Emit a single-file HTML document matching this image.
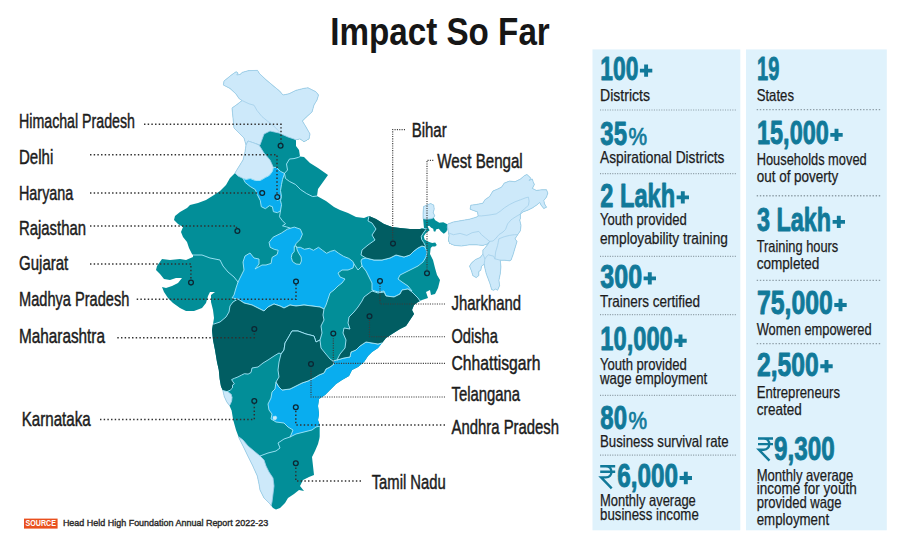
<!DOCTYPE html>
<html><head><meta charset="utf-8"><title>Impact So Far</title><style>html,body{margin:0;padding:0;background:#fff}svg{display:block}text{font-family:"Liberation Sans",sans-serif}</style></head><body>
<svg width="900" height="545" viewBox="0 0 900 545">
<rect width="900" height="545" fill="#fff"/>
<defs><clipPath id="india"><polygon points="236.1,71.7 238.1,73 236.8,75 240.1,74.4 242.1,72.4 248.8,70.6 257.5,70.4 259.6,73.7 266,79.7 274,86.4 279.6,91 283,95 289,93.8 295.7,90.4 303.7,88.4 308,87.8 316,91.8 318.5,95 317,100 314,105 312,112 306.4,117 302.4,121 306,127 310,134 309,139 304,142 300,139 296,140 296,146 299,150 300,156.5 304,157 310,163 318,168 328,175 323,182 318,189 317,196 326,201 334,207 340,210 348,213 356,217 364,218 369,216 376,219 384,224 392,227 400,228 410,229 420,229 424,228 423.1,218.7 423.1,213.1 423.6,206.6 426.7,205.1 430.7,203.6 433.7,205.1 434.2,209.1 433.2,212.6 434.7,215.7 433.7,217.7 435.2,220.2 439.3,222.7 443.3,222.2 447.3,224.2 453.4,222 461.4,220.6 469.5,219.2 476.2,217.2 478.2,215.9 477.5,211.9 473.5,210.5 470.1,209.2 470.8,205.2 476.2,204.5 482.9,203.2 484.9,199.8 489.6,196.5 492.9,191.1 497.6,189.1 501.6,187.1 504.3,183.1 509.6,181.1 515,181.7 520.4,179.1 524.4,175.7 527,174.4 529,176.4 531.1,178.4 529.1,180.4 532.4,179.1 533.1,181.7 534.4,184.4 532.4,188.4 536.4,190.4 541.8,189.8 546.5,189.8 547.8,193.1 546.5,197.1 543.8,200.5 544.5,203.8 546.5,207.2 543.8,208.5 541.1,205.2 539.8,202.5 536.4,205.2 532.4,207.9 528.4,209.9 523,211.9 520.4,214 520.4,218.6 519.7,220 521,225.4 520.4,230.7 517.7,234.7 515,238.8 517,241.4 515,248.1 513,254.8 511,260.2 509.6,260.8 504.3,260.2 500.3,260.2 500.9,266.9 500.3,273.6 498.9,280.3 499.6,285.6 497.6,290.3 495.6,289 493.6,290.3 491.6,289.6 490.2,284.3 488.2,278.9 486.2,273.6 484.9,268.2 484.2,264.2 481.5,266.2 480.8,270.2 478.8,271.6 478.8,275.6 476.2,277.6 472.8,275.6 471.5,270.9 469.5,266.2 471.5,262.9 475.5,259.5 480.2,257.5 482.9,254 482.9,250 484.9,248 487.5,244.8 489.6,241.4 487.5,244 482.9,245.4 476.2,244.8 469.5,244.8 461.4,246 454.7,245.4 449.4,243.4 448.3,240.4 448.9,235.3 447.8,230.3 447.8,228.3 446.3,231.8 443.8,233.8 440.8,231.3 438.8,228.8 436.3,229.3 435.2,231.8 433.7,231.3 433.2,228.8 431.2,227.8 429.2,225.7 427.7,226.2 428.7,228.8 429.7,230.3 427.7,231.8 425.6,233.5 423.8,236.3 424.6,239.4 426.5,240.7 429.2,241.9 432.2,242.9 435.2,242.4 436.8,244.9 435.2,246.4 432.2,246.4 430.7,247.9 430,254 433,260 435,268 437,275 440,280 438,288 435,294 431,295 430,290 426,292 428,298 422,300 418,302 414,305 412,310 414,314 410,320 406,326 400,329 392,334 386,338 382,343 378,348 372,352 368,356 364,362 358,367 352,370 349,376 342,380 336,384 330,390 325,395 319,399 318,406 319,414 318,420 320,426 320,436 318,444 315,451 312,457 313,466 314,475 309,477 303,480 300,486 304,491 299,490 294,494 288,498 285,503 280,508 276,509.6 273,508 270,504 264,498 260,490 259,484 257.3,476 252.8,466 247.8,456 243,446 239,438 236,430 233.2,420 231.6,410.4 229.3,405.3 226.6,401.7 224.3,396.6 222.9,390.6 221,386.5 219.7,379.2 218.8,370 217,362 215,350 213,340 212,330 213,324 214,318 213,310 211,302 211,295 215,292 210,292 208,296 206,303 202,308 194,311 186,311 180,308 173,303 168,298 164,292 162,287 166,288 172,286 178,283 182,278 176,278 170,280 164,279 160,274 156,270 157,266 162,259 170,260 180,259 186,260 193,257 193,255 192,254 189,248 187,242 183,237 181,232 183,227 178,224 174,220 175,216 180,212 187,208 190,205 198,203 206,200 214,195 220,191 226,185 230,178 235,173 238,168 243,160 245,152 246,145 244,138 240,134 234,128 233,118 232,108 237,104.5 242,100.5 239,98.5 236,94 230,88.4 223.4,85 224,81 231.4,75"/></clipPath></defs>
<g id="map">
<polygon points="236.1,71.7 238.1,73 236.8,75 240.1,74.4 242.1,72.4 248.8,70.6 257.5,70.4 259.6,73.7 266,79.7 274,86.4 279.6,91 283,95 289,93.8 295.7,90.4 303.7,88.4 308,87.8 316,91.8 318.5,95 317,100 314,105 312,112 306.4,117 302.4,121 306,127 310,134 309,139 304,142 300,139 296,140 296,146 299,150 300,156.5 304,157 310,163 318,168 328,175 323,182 318,189 317,196 326,201 334,207 340,210 348,213 356,217 364,218 369,216 376,219 384,224 392,227 400,228 410,229 420,229 424,228 423.1,218.7 423.1,213.1 423.6,206.6 426.7,205.1 430.7,203.6 433.7,205.1 434.2,209.1 433.2,212.6 434.7,215.7 433.7,217.7 435.2,220.2 439.3,222.7 443.3,222.2 447.3,224.2 453.4,222 461.4,220.6 469.5,219.2 476.2,217.2 478.2,215.9 477.5,211.9 473.5,210.5 470.1,209.2 470.8,205.2 476.2,204.5 482.9,203.2 484.9,199.8 489.6,196.5 492.9,191.1 497.6,189.1 501.6,187.1 504.3,183.1 509.6,181.1 515,181.7 520.4,179.1 524.4,175.7 527,174.4 529,176.4 531.1,178.4 529.1,180.4 532.4,179.1 533.1,181.7 534.4,184.4 532.4,188.4 536.4,190.4 541.8,189.8 546.5,189.8 547.8,193.1 546.5,197.1 543.8,200.5 544.5,203.8 546.5,207.2 543.8,208.5 541.1,205.2 539.8,202.5 536.4,205.2 532.4,207.9 528.4,209.9 523,211.9 520.4,214 520.4,218.6 519.7,220 521,225.4 520.4,230.7 517.7,234.7 515,238.8 517,241.4 515,248.1 513,254.8 511,260.2 509.6,260.8 504.3,260.2 500.3,260.2 500.9,266.9 500.3,273.6 498.9,280.3 499.6,285.6 497.6,290.3 495.6,289 493.6,290.3 491.6,289.6 490.2,284.3 488.2,278.9 486.2,273.6 484.9,268.2 484.2,264.2 481.5,266.2 480.8,270.2 478.8,271.6 478.8,275.6 476.2,277.6 472.8,275.6 471.5,270.9 469.5,266.2 471.5,262.9 475.5,259.5 480.2,257.5 482.9,254 482.9,250 484.9,248 487.5,244.8 489.6,241.4 487.5,244 482.9,245.4 476.2,244.8 469.5,244.8 461.4,246 454.7,245.4 449.4,243.4 448.3,240.4 448.9,235.3 447.8,230.3 447.8,228.3 446.3,231.8 443.8,233.8 440.8,231.3 438.8,228.8 436.3,229.3 435.2,231.8 433.7,231.3 433.2,228.8 431.2,227.8 429.2,225.7 427.7,226.2 428.7,228.8 429.7,230.3 427.7,231.8 425.6,233.5 423.8,236.3 424.6,239.4 426.5,240.7 429.2,241.9 432.2,242.9 435.2,242.4 436.8,244.9 435.2,246.4 432.2,246.4 430.7,247.9 430,254 433,260 435,268 437,275 440,280 438,288 435,294 431,295 430,290 426,292 428,298 422,300 418,302 414,305 412,310 414,314 410,320 406,326 400,329 392,334 386,338 382,343 378,348 372,352 368,356 364,362 358,367 352,370 349,376 342,380 336,384 330,390 325,395 319,399 318,406 319,414 318,420 320,426 320,436 318,444 315,451 312,457 313,466 314,475 309,477 303,480 300,486 304,491 299,490 294,494 288,498 285,503 280,508 276,509.6 273,508 270,504 264,498 260,490 259,484 257.3,476 252.8,466 247.8,456 243,446 239,438 236,430 233.2,420 231.6,410.4 229.3,405.3 226.6,401.7 224.3,396.6 222.9,390.6 221,386.5 219.7,379.2 218.8,370 217,362 215,350 213,340 212,330 213,324 214,318 213,310 211,302 211,295 215,292 210,292 208,296 206,303 202,308 194,311 186,311 180,308 173,303 168,298 164,292 162,287 166,288 172,286 178,283 182,278 176,278 170,280 164,279 160,274 156,270 157,266 162,259 170,260 180,259 186,260 193,257 193,255 192,254 189,248 187,242 183,237 181,232 183,227 178,224 174,220 175,216 180,212 187,208 190,205 198,203 206,200 214,195 220,191 226,185 230,178 235,173 238,168 243,160 245,152 246,145 244,138 240,134 234,128 233,118 232,108 237,104.5 242,100.5 239,98.5 236,94 230,88.4 223.4,85 224,81 231.4,75" fill="#028e98"/>
<g clip-path="url(#india)">
<polygon points="200,60 330,60 330,140 309,139 304,142 300,139 296,140 294,139 288,137 279,133 270,131 264,134 260,145 254,143 248,141 246,145 200,145" fill="#cde9fa" stroke="#a3cfea" stroke-width="0.8" stroke-linejoin="round" />
<polygon points="225,145 246,145 248,141 254,143 259,145 264,153 270,160 273.4,167.4 272.4,171.4 269.4,175.4 265.4,177.5 260.3,180.5 255.3,180.5 250.2,178.5 246.2,179.5 243.2,178.5 238,176 235,173 225,173" fill="#cde9fa" stroke="#a3cfea" stroke-width="0.8" stroke-linejoin="round" />
<polygon points="420,200 438,200 438,217 433.7,217.7 431.2,218.7 426.7,219.2 423.1,218.7 420,218.7" fill="#cde9fa" stroke="#a3cfea" stroke-width="0.8" stroke-linejoin="round" />
<polygon points="447.6,224 470,160 570,160 570,300 460,300 453,246 449.4,243.4 448.3,240.4 448.9,235.3 447.8,230.3 447.3,227.3" fill="#cde9fa" stroke="#a3cfea" stroke-width="0.8" stroke-linejoin="round" />
<polygon points="239,437 243,440 248,446 254,451 260,456 264,460 266,466 269,472 273,478 274,486 273,494 272,502 271,506 260,515 225,480 225,437" fill="#cde9fa" stroke="#a3cfea" stroke-width="0.8" stroke-linejoin="round" />
<polygon points="215,390.6 222.9,390.6 226.6,390.9 228.9,392.5 231.1,394.3 232.1,397.5 231.6,401.2 230.2,404.4 229.3,405.6 215,405.6" fill="#cde9fa" stroke="#a3cfea" stroke-width="0.8" stroke-linejoin="round" />
<polyline points="242,100.5 249,103.8 254,105.2 257,110.5 262,116.6 267.6,121.2 273,125.3 277,129.3 279.6,132" fill="none" stroke="#a3cfea" stroke-width="0.8" stroke-linejoin="round" stroke-linecap="round"/>
<polyline points="478.2,215.9 481.5,215.9 488.2,215.2 496.2,213.9 500.3,211.2 504.3,207.9 509.6,204.5 515,201.8 520.4,199.8 525.7,197.8 528.4,197.1 529.1,201.2 528.4,205.2 525.7,207.9 521.7,211.2 520.4,214" fill="none" stroke="#a3cfea" stroke-width="0.8" stroke-linejoin="round" stroke-linecap="round"/>
<polyline points="520.4,214 515,217.2 511,219.9 507.6,223.9 505.6,229.3 503,232 498.9,234.7 496.2,238" fill="none" stroke="#a3cfea" stroke-width="0.8" stroke-linejoin="round" stroke-linecap="round"/>
<polyline points="448,232.7 453.4,234.7 460,233.4 466.8,235.4 472.1,232.7 478.8,231.4 481.5,234.7 485.5,238 489.6,241.4" fill="none" stroke="#a3cfea" stroke-width="0.8" stroke-linejoin="round" stroke-linecap="round"/>
<polyline points="482.9,254 484.9,258.8 484.2,264.2" fill="none" stroke="#a3cfea" stroke-width="0.8" stroke-linejoin="round" stroke-linecap="round"/>
<polyline points="484.9,258.8 487.5,255.5 488.2,254.8 493.6,256.2 494.9,258.8 500.3,260.2" fill="none" stroke="#a3cfea" stroke-width="0.8" stroke-linejoin="round" stroke-linecap="round"/>
<polyline points="494.9,258.8 495.6,252.1 497.6,245.4 498.9,238.8 504.3,236.7 509.6,235.4 514.3,234.7 517.7,234.7" fill="none" stroke="#a3cfea" stroke-width="0.8" stroke-linejoin="round" stroke-linecap="round"/>
<polyline points="489.6,241.4 493,241 496.2,238" fill="none" stroke="#a3cfea" stroke-width="0.8" stroke-linejoin="round" stroke-linecap="round"/>
<polygon points="243.2,178.5 245.2,182.5 250.2,186.5 255.3,189.6 257.3,194.6 260.3,200.6 261.3,206.7 265.4,208.7 269.4,205.7 272.4,206.7 273.4,211.7 277.5,212.7 280.5,210.7 281.5,204.7 280.5,200.6 281.5,196.6 280.5,190.6 281.5,184.5 282.5,179.5 284.5,173.4 280.5,171.4 276.5,167.4 273.4,167.4 272.4,171.4 269.4,175.4 265.4,177.5 260.3,180.5 255.3,180.5 250.2,178.5 246.2,179.5" fill="#09adef" stroke="#a6e8fb" stroke-width="0.9" stroke-linejoin="round" />
<polygon points="238,282 241,276 244,270 243,262 245,256 250,253 254,258 259,259 259,264 255,269 262,265 266,265 271.1,263.4 272.1,257.4 277.2,254.4 278.2,250.3 274.2,249.3 270.1,247.3 269.1,242.3 273.1,237.2 281.2,233.2 287.3,229.2 294.3,227.1 300.4,229.2 302.4,234.2 300.4,239.2 296.3,243.3 294.3,247.3 300.4,247.3 304.4,249.3 309.4,248.3 313.5,250.3 318.5,247.3 322.5,250.3 326.6,253.3 330.6,251.3 334.6,250.3 338.7,253.3 343.7,256.4 348.8,258.4 352.8,261.4 354,264 353,268 348,270 342,270 338,273 340,277 345,279 342,283 338,286 334,290 330,293 328,299 326,305 324,309 320,307 312,306 304,305 296,306 290,305 284,308 280,306 274,304 268,307 264,311 260,309 252,305 244,303 238,299 232,298 234,295 236,288" fill="#09adef" stroke="#a6e8fb" stroke-width="0.9" stroke-linejoin="round" />
<polygon points="362,266 361,261 362,259 366,258 374,260 382,260 390,258 396,255 404,257 410,255 414,251 418,248 422,246 425,247 427,252 426,257 423,262 418,266 412,269 406,272 400,275 398,279 402,282 408,286 412,291 408,289 402,290 400,294 394,297 386,296 384,291 378,292 372,290 372,283 369,277 366,271" fill="#09adef" stroke="#a6e8fb" stroke-width="0.9" stroke-linejoin="round" />
<polygon points="337,360 344,358 350,357 351,352 356,350 360,346 366,342 372,343 378,344 382,343 400,343 400,450 320,450 320,426 316,427 312,430 304,432 296,434 290,437 291,435 293,430 288,427 284,423 276,422 271,419 272,414 269,410 268,404 271,398 272,392 275,389 276,382 279,387 282,390 290,389 296,386 302,383 308,381 314,378 319,375 324,373 326,369 330,367 334,364 333,361" fill="#09adef" stroke="#a6e8fb" stroke-width="0.9" stroke-linejoin="round" />
<polygon points="275.2,195.3 278,194 280.5,196 280,199.5 277,200.5 275,198.5" fill="#09adef" stroke="#a6e8fb" stroke-width="0.6" stroke-linejoin="round" />
<polygon points="294.3,246.3 296.3,246 297.2,250 298.6,253 301.2,257 301.4,261 300,264.4 296,264 292.5,261.5 291.3,257.5 292,254 294.2,251.5" fill="#028e98" stroke="#a6e8fb" stroke-width="0.9" stroke-linejoin="round" />
<polygon points="369,210 422,210 422,228 426.5,229 425.7,229.8 423.1,233.3 421.3,236.3 421.6,239.4 423.6,242.4 425.2,245.4 425,247 422,246 418,248 414,251 410,255 404,257 396,255 390,258 382,260 374,260 366,258 361,255 362,250 368,245 375,240 372,235 376,229 372,223 368,221 369,216" fill="#015d62" stroke="#a6e8fb" stroke-width="0.9" stroke-linejoin="round" />
<polygon points="200,324 214,324 220,322 226,317 229,312 230,306 233,302 238,299 244,303 252,305 260,309 264,311 268,307 274,304 280,306 284,308 290,305 296,306 304,305 312,306 320,307 324,309 323,315 324,320 321,326 322,333 320,340 316,342 314,336 306,334 298,331 292,331 288,338 285,343 284,350 281,354 279,353 274,356 268,360 263,363 258,367 252,368 251,372.5 248.1,374.1 244.4,373.7 241.7,375 238,376.9 234.4,378.3 231.6,379.6 233,381.9 234.4,383.8 232.5,385.1 232.5,387.9 230.2,390.2 227,391.6 222.9,390.6 200,392" fill="#015d62" stroke="#a6e8fb" stroke-width="0.9" stroke-linejoin="round" />
<polygon points="368,294 372,291 378,293 384,292 386,296 394,297 400,294 402,290 408,289 412,292 418,298 420,301 440,301 440,360 382,343 378,344 372,343 366,342 360,346 356,350 351,352 350,357 344,358 337,360 340,354 345,348 346,340 343,333 344,328 350,329 348,323 349,317 354,312 358,307 362,301 364,297" fill="#015d62" stroke="#a6e8fb" stroke-width="0.9" stroke-linejoin="round" />
<polygon points="292,331 298,331 306,334 314,336 316,342 320,340 321,348 325,353 330,359 333,361 334,364 330,367 326,369 324,373 319,375 314,378 308,381 302,383 296,386 290,389 282,390 279,387 276,382 279,377 278,370 279,362 281,354 284,350 285,343 288,338" fill="#015d62" stroke="#a6e8fb" stroke-width="0.9" stroke-linejoin="round" />
<polygon points="273,416.5 276,416 277,418 275.5,420 273,419.5" fill="#cde9fa" stroke="#a6e8fb" stroke-width="0.5" stroke-linejoin="round" />
<polyline points="300,156.5 298.6,157.3 294,158.6 289.5,159 286.5,164 287.5,170 284.5,173.4" fill="none" stroke="#a6e8fb" stroke-width="0.9" stroke-linejoin="round" stroke-linecap="round"/>
<polyline points="284.5,173.4 285.5,178.5 289.6,181.5 295.6,184.5 300.6,189.6 306.7,193.6 312.7,196.6 317,196" fill="none" stroke="#a6e8fb" stroke-width="0.9" stroke-linejoin="round" stroke-linecap="round"/>
<polyline points="280.5,210.7 279.5,216.8 282.5,220.8 285.5,223.8 282.5,225.8 286.5,226.9 290,228" fill="none" stroke="#a6e8fb" stroke-width="0.9" stroke-linejoin="round" stroke-linecap="round"/>
<polyline points="193,255 202,255 210,258 220,260 223,266 228,272 234,277 238,282" fill="none" stroke="#a6e8fb" stroke-width="0.9" stroke-linejoin="round" stroke-linecap="round"/>
<polyline points="354,264 358,270 362,266" fill="none" stroke="#a6e8fb" stroke-width="0.9" stroke-linejoin="round" stroke-linecap="round"/>
<polyline points="260,456 268,453 276,451 280,448 278,443 284,439 290,437" fill="none" stroke="#a6e8fb" stroke-width="0.9" stroke-linejoin="round" stroke-linecap="round"/>
</g>
<clipPath id="lightclip"><polygon points="200,60 330,60 330,140 309,139 304,142 300,139 296,140 294,139 288,137 279,133 270,131 264,134 260,145 254,143 248,141 246,145 200,145"/><polygon points="225,145 246,145 248,141 254,143 259,145 264,153 270,160 273.4,167.4 272.4,171.4 269.4,175.4 265.4,177.5 260.3,180.5 255.3,180.5 250.2,178.5 246.2,179.5 243.2,178.5 238,176 235,173 225,173"/><polygon points="420,200 438,200 438,217 433.7,217.7 431.2,218.7 426.7,219.2 423.1,218.7 420,218.7"/><polygon points="447.6,224 470,160 570,160 570,300 460,300 453,246 449.4,243.4 448.3,240.4 448.9,235.3 447.8,230.3 447.3,227.3"/><polygon points="239,437 243,440 248,446 254,451 260,456 264,460 266,466 269,472 273,478 274,486 273,494 272,502 271,506 260,515 225,480 225,437"/><polygon points="215,390.6 222.9,390.6 226.6,390.9 228.9,392.5 231.1,394.3 232.1,397.5 231.6,401.2 230.2,404.4 229.3,405.6 215,405.6"/></clipPath>
<g clip-path="url(#lightclip)"><polygon points="236.1,71.7 238.1,73 236.8,75 240.1,74.4 242.1,72.4 248.8,70.6 257.5,70.4 259.6,73.7 266,79.7 274,86.4 279.6,91 283,95 289,93.8 295.7,90.4 303.7,88.4 308,87.8 316,91.8 318.5,95 317,100 314,105 312,112 306.4,117 302.4,121 306,127 310,134 309,139 304,142 300,139 296,140 296,146 299,150 300,156.5 304,157 310,163 318,168 328,175 323,182 318,189 317,196 326,201 334,207 340,210 348,213 356,217 364,218 369,216 376,219 384,224 392,227 400,228 410,229 420,229 424,228 423.1,218.7 423.1,213.1 423.6,206.6 426.7,205.1 430.7,203.6 433.7,205.1 434.2,209.1 433.2,212.6 434.7,215.7 433.7,217.7 435.2,220.2 439.3,222.7 443.3,222.2 447.3,224.2 453.4,222 461.4,220.6 469.5,219.2 476.2,217.2 478.2,215.9 477.5,211.9 473.5,210.5 470.1,209.2 470.8,205.2 476.2,204.5 482.9,203.2 484.9,199.8 489.6,196.5 492.9,191.1 497.6,189.1 501.6,187.1 504.3,183.1 509.6,181.1 515,181.7 520.4,179.1 524.4,175.7 527,174.4 529,176.4 531.1,178.4 529.1,180.4 532.4,179.1 533.1,181.7 534.4,184.4 532.4,188.4 536.4,190.4 541.8,189.8 546.5,189.8 547.8,193.1 546.5,197.1 543.8,200.5 544.5,203.8 546.5,207.2 543.8,208.5 541.1,205.2 539.8,202.5 536.4,205.2 532.4,207.9 528.4,209.9 523,211.9 520.4,214 520.4,218.6 519.7,220 521,225.4 520.4,230.7 517.7,234.7 515,238.8 517,241.4 515,248.1 513,254.8 511,260.2 509.6,260.8 504.3,260.2 500.3,260.2 500.9,266.9 500.3,273.6 498.9,280.3 499.6,285.6 497.6,290.3 495.6,289 493.6,290.3 491.6,289.6 490.2,284.3 488.2,278.9 486.2,273.6 484.9,268.2 484.2,264.2 481.5,266.2 480.8,270.2 478.8,271.6 478.8,275.6 476.2,277.6 472.8,275.6 471.5,270.9 469.5,266.2 471.5,262.9 475.5,259.5 480.2,257.5 482.9,254 482.9,250 484.9,248 487.5,244.8 489.6,241.4 487.5,244 482.9,245.4 476.2,244.8 469.5,244.8 461.4,246 454.7,245.4 449.4,243.4 448.3,240.4 448.9,235.3 447.8,230.3 447.8,228.3 446.3,231.8 443.8,233.8 440.8,231.3 438.8,228.8 436.3,229.3 435.2,231.8 433.7,231.3 433.2,228.8 431.2,227.8 429.2,225.7 427.7,226.2 428.7,228.8 429.7,230.3 427.7,231.8 425.6,233.5 423.8,236.3 424.6,239.4 426.5,240.7 429.2,241.9 432.2,242.9 435.2,242.4 436.8,244.9 435.2,246.4 432.2,246.4 430.7,247.9 430,254 433,260 435,268 437,275 440,280 438,288 435,294 431,295 430,290 426,292 428,298 422,300 418,302 414,305 412,310 414,314 410,320 406,326 400,329 392,334 386,338 382,343 378,348 372,352 368,356 364,362 358,367 352,370 349,376 342,380 336,384 330,390 325,395 319,399 318,406 319,414 318,420 320,426 320,436 318,444 315,451 312,457 313,466 314,475 309,477 303,480 300,486 304,491 299,490 294,494 288,498 285,503 280,508 276,509.6 273,508 270,504 264,498 260,490 259,484 257.3,476 252.8,466 247.8,456 243,446 239,438 236,430 233.2,420 231.6,410.4 229.3,405.3 226.6,401.7 224.3,396.6 222.9,390.6 221,386.5 219.7,379.2 218.8,370 217,362 215,350 213,340 212,330 213,324 214,318 213,310 211,302 211,295 215,292 210,292 208,296 206,303 202,308 194,311 186,311 180,308 173,303 168,298 164,292 162,287 166,288 172,286 178,283 182,278 176,278 170,280 164,279 160,274 156,270 157,266 162,259 170,260 180,259 186,260 193,257 193,255 192,254 189,248 187,242 183,237 181,232 183,227 178,224 174,220 175,216 180,212 187,208 190,205 198,203 206,200 214,195 220,191 226,185 230,178 235,173 238,168 243,160 245,152 246,145 244,138 240,134 234,128 233,118 232,108 237,104.5 242,100.5 239,98.5 236,94 230,88.4 223.4,85 224,81 231.4,75" fill="none" stroke="#a3cfea" stroke-width="0.9" stroke-linejoin="round"/></g>
</g>
<g fill="none" stroke="#303030" stroke-width="1.5" stroke-dasharray="1.45 2.23">
<path d="M144,124.3H281V142.5"/>
<path d="M90,154.8H277V194"/>
<path d="M90,192.9H259"/>
<path d="M90,226H236.5V228"/>
<path d="M90,263.9H190.9V279.6"/>
<path d="M136.7,299.3H296V284.6"/>
<path d="M117.3,337.7H254.3V332"/>
<path d="M100,419.5H254.3V404"/>
<path d="M445,425H295.8V410.2"/>
<path d="M361,481H295.8V466.3"/>
</g>
<g fill="none" stroke="#3c3c3c" stroke-width="1.15" stroke-dasharray="1.1 1.24">
<path d="M405,129.6H392.7V240.6"/>
<path d="M433.3,160.4H427V270.3"/>
<path d="M445,304H380V284"/>
<path d="M445,336.7H369.5V319.3"/>
<path d="M445,363.3H333.3V336.5"/>
<path d="M445,397H311V367"/>
</g>
<g fill="none" stroke="#0c2733" stroke-width="1.3">
<circle cx="280.6" cy="145.8" r="2.4"/>
<circle cx="277.3" cy="197" r="2.4"/>
<circle cx="262.2" cy="193" r="2.4"/>
<circle cx="237.4" cy="231" r="2.4"/>
<circle cx="191" cy="282.6" r="2.4"/>
<circle cx="296" cy="281.6" r="2.4"/>
<circle cx="254.3" cy="329" r="2.4"/>
<circle cx="254.3" cy="401" r="2.4"/>
<circle cx="295.8" cy="463.3" r="2.4"/>
<circle cx="295.8" cy="407.2" r="2.4"/>
<circle cx="311" cy="364" r="2.4"/>
<circle cx="333.3" cy="333.5" r="2.4"/>
<circle cx="369.5" cy="316.3" r="2.4"/>
<circle cx="380" cy="281" r="2.4"/>
<circle cx="427" cy="273.3" r="2.4"/>
<circle cx="393" cy="243.6" r="2.4"/>
</g>
<text x="330.2" y="44.8" font-size="38.2" font-weight="bold" fill="#161616" textLength="219.6" lengthAdjust="spacingAndGlyphs" >Impact So Far</text>
<text x="19" y="128.3" font-size="19.3" font-weight="normal" fill="#1c1c1c" textLength="116" lengthAdjust="spacingAndGlyphs" stroke="#1c1c1c" stroke-width="0.45">Himachal Pradesh</text>
<text x="19" y="163.9" font-size="19.3" font-weight="normal" fill="#1c1c1c" textLength="34.3" lengthAdjust="spacingAndGlyphs" stroke="#1c1c1c" stroke-width="0.45">Delhi</text>
<text x="19" y="199.6" font-size="19.3" font-weight="normal" fill="#1c1c1c" textLength="54.3" lengthAdjust="spacingAndGlyphs" stroke="#1c1c1c" stroke-width="0.45">Haryana</text>
<text x="19" y="234.9" font-size="19.3" font-weight="normal" fill="#1c1c1c" textLength="67" lengthAdjust="spacingAndGlyphs" stroke="#1c1c1c" stroke-width="0.45">Rajasthan</text>
<text x="19" y="269.9" font-size="19.3" font-weight="normal" fill="#1c1c1c" textLength="49.3" lengthAdjust="spacingAndGlyphs" stroke="#1c1c1c" stroke-width="0.45">Gujarat</text>
<text x="19" y="306.3" font-size="19.3" font-weight="normal" fill="#1c1c1c" textLength="110.3" lengthAdjust="spacingAndGlyphs" stroke="#1c1c1c" stroke-width="0.45">Madhya Pradesh</text>
<text x="19" y="342.9" font-size="19.3" font-weight="normal" fill="#1c1c1c" textLength="86" lengthAdjust="spacingAndGlyphs" stroke="#1c1c1c" stroke-width="0.45">Maharashtra</text>
<text x="21.7" y="425.6" font-size="19.3" font-weight="normal" fill="#1c1c1c" textLength="69" lengthAdjust="spacingAndGlyphs" stroke="#1c1c1c" stroke-width="0.45">Karnataka</text>
<text x="411.7" y="137.3" font-size="19.3" font-weight="normal" fill="#1c1c1c" textLength="35" lengthAdjust="spacingAndGlyphs" stroke="#1c1c1c" stroke-width="0.45">Bihar</text>
<text x="437.3" y="168.3" font-size="19.3" font-weight="normal" fill="#1c1c1c" textLength="85.4" lengthAdjust="spacingAndGlyphs" stroke="#1c1c1c" stroke-width="0.45">West Bengal</text>
<text x="451.5" y="309.6" font-size="19.3" font-weight="normal" fill="#1c1c1c" textLength="69.6" lengthAdjust="spacingAndGlyphs" stroke="#1c1c1c" stroke-width="0.45">Jharkhand</text>
<text x="451.5" y="342.9" font-size="19.3" font-weight="normal" fill="#1c1c1c" textLength="46.3" lengthAdjust="spacingAndGlyphs" stroke="#1c1c1c" stroke-width="0.45">Odisha</text>
<text x="451.5" y="369.6" font-size="19.3" font-weight="normal" fill="#1c1c1c" textLength="89" lengthAdjust="spacingAndGlyphs" stroke="#1c1c1c" stroke-width="0.45">Chhattisgarh</text>
<text x="451.5" y="401.3" font-size="19.3" font-weight="normal" fill="#1c1c1c" textLength="68.6" lengthAdjust="spacingAndGlyphs" stroke="#1c1c1c" stroke-width="0.45">Telangana</text>
<text x="451.5" y="433.9" font-size="19.3" font-weight="normal" fill="#1c1c1c" textLength="107.6" lengthAdjust="spacingAndGlyphs" stroke="#1c1c1c" stroke-width="0.45">Andhra Pradesh</text>
<text x="371.7" y="488.9" font-size="19.3" font-weight="normal" fill="#1c1c1c" textLength="74" lengthAdjust="spacingAndGlyphs" stroke="#1c1c1c" stroke-width="0.45">Tamil Nadu</text>
<rect x="592.5" y="49.4" width="147.8" height="480.9" fill="#dff2fc"/>
<rect x="746" y="49.4" width="140.8" height="480.9" fill="#dff2fc"/>
<text x="600.3" y="79.8" font-size="32.8" font-weight="bold" fill="#117999" textLength="38.1" lengthAdjust="spacingAndGlyphs" stroke="#117999" stroke-width="0.9" stroke-linejoin="round">100</text><path d="M639.9,70.6h12.4M646.1,64.4v12.4" stroke="#117999" stroke-width="3.9" fill="none"/>
<text x="600" y="100.7" font-size="16.5" font-weight="normal" fill="#1c1c1c" textLength="50" lengthAdjust="spacingAndGlyphs" stroke="#1c1c1c" stroke-width="0.25">Districts</text>
<path d="M600,110H736" fill="none" stroke="#8f9fa8" stroke-width="1.2" stroke-dasharray="1.1 1.35"/>
<text x="600.3" y="144.8" font-size="32.8" font-weight="bold" fill="#117999" textLength="26.7" lengthAdjust="spacingAndGlyphs" stroke="#117999" stroke-width="0.9" stroke-linejoin="round">35</text>
<text x="628.6" y="144.6" font-size="24.5" font-weight="normal" fill="#117999" textLength="18.6" lengthAdjust="spacingAndGlyphs" stroke="#117999" stroke-width="0.7">%</text>
<text x="600" y="162.8" font-size="16.5" font-weight="normal" fill="#1c1c1c" textLength="124.5" lengthAdjust="spacingAndGlyphs" stroke="#1c1c1c" stroke-width="0.25">Aspirational Districts</text>
<path d="M600,173.6H736" fill="none" stroke="#8f9fa8" stroke-width="1.2" stroke-dasharray="1.1 1.35"/>
<text x="600.3" y="206.6" font-size="32.8" font-weight="bold" fill="#117999" textLength="74.8" lengthAdjust="spacingAndGlyphs" stroke="#117999" stroke-width="0.9" stroke-linejoin="round">2 Lakh</text><path d="M676.6,197.4h12.4M682.8,191.2v12.4" stroke="#117999" stroke-width="3.9" fill="none"/>
<text x="600" y="225" font-size="16.5" font-weight="normal" fill="#1c1c1c" textLength="86.7" lengthAdjust="spacingAndGlyphs" stroke="#1c1c1c" stroke-width="0.25">Youth provided</text>
<text x="600" y="243.8" font-size="16.5" font-weight="normal" fill="#1c1c1c" textLength="127.9" lengthAdjust="spacingAndGlyphs" stroke="#1c1c1c" stroke-width="0.25">employability training</text>
<path d="M600,256.3H736" fill="none" stroke="#8f9fa8" stroke-width="1.2" stroke-dasharray="1.1 1.35"/>
<text x="600.3" y="287.6" font-size="32.8" font-weight="bold" fill="#117999" textLength="41.8" lengthAdjust="spacingAndGlyphs" stroke="#117999" stroke-width="0.9" stroke-linejoin="round">300</text><path d="M643.6,278.4h12.4M649.8,272.2v12.4" stroke="#117999" stroke-width="3.9" fill="none"/>
<text x="600" y="306.5" font-size="16.5" font-weight="normal" fill="#1c1c1c" textLength="100" lengthAdjust="spacingAndGlyphs" stroke="#1c1c1c" stroke-width="0.25">Trainers certified</text>
<path d="M600,314.6H736" fill="none" stroke="#8f9fa8" stroke-width="1.2" stroke-dasharray="1.1 1.35"/>
<text x="600.3" y="350" font-size="32.8" font-weight="bold" fill="#117999" textLength="72.5" lengthAdjust="spacingAndGlyphs" stroke="#117999" stroke-width="0.9" stroke-linejoin="round">10,000</text><path d="M674.3,340.8h12.4M680.5,334.6v12.4" stroke="#117999" stroke-width="3.9" fill="none"/>
<text x="600" y="369.5" font-size="16.5" font-weight="normal" fill="#1c1c1c" textLength="86.7" lengthAdjust="spacingAndGlyphs" stroke="#1c1c1c" stroke-width="0.25">Youth provided</text>
<text x="600" y="383.7" font-size="16.5" font-weight="normal" fill="#1c1c1c" textLength="107.3" lengthAdjust="spacingAndGlyphs" stroke="#1c1c1c" stroke-width="0.25">wage employment</text>
<path d="M600,395.4H736" fill="none" stroke="#8f9fa8" stroke-width="1.2" stroke-dasharray="1.1 1.35"/>
<text x="600.3" y="428.8" font-size="32.8" font-weight="bold" fill="#117999" textLength="26.7" lengthAdjust="spacingAndGlyphs" stroke="#117999" stroke-width="0.9" stroke-linejoin="round">80</text>
<text x="628.6" y="428.6" font-size="24.5" font-weight="normal" fill="#117999" textLength="18.6" lengthAdjust="spacingAndGlyphs" stroke="#117999" stroke-width="0.7">%</text>
<text x="600" y="447.1" font-size="16.5" font-weight="normal" fill="#1c1c1c" textLength="128.6" lengthAdjust="spacingAndGlyphs" stroke="#1c1c1c" stroke-width="0.25">Business survival rate</text>
<path d="M600,455.1H736" fill="none" stroke="#8f9fa8" stroke-width="1.2" stroke-dasharray="1.1 1.35"/>
<path d="M600.2,466.2h15M600.2,471.8h15M600.5,466.2h5.4c7.4,0 7.4,11.2 0,11.2h-4.8l10.6,11" fill="none" stroke="#117999" stroke-width="2.4" stroke-linejoin="miter"/>
<text x="617.3" y="487.2" font-size="32.8" font-weight="bold" fill="#117999" textLength="60.8" lengthAdjust="spacingAndGlyphs" stroke="#117999" stroke-width="0.9" stroke-linejoin="round">6,000</text><path d="M679.6,478h12.4M685.8,471.8v12.4" stroke="#117999" stroke-width="3.9" fill="none"/>
<text x="600" y="505.8" font-size="16.5" font-weight="normal" fill="#1c1c1c" textLength="95.8" lengthAdjust="spacingAndGlyphs" stroke="#1c1c1c" stroke-width="0.25">Monthly average</text>
<text x="600" y="519.9" font-size="16.5" font-weight="normal" fill="#1c1c1c" textLength="98.8" lengthAdjust="spacingAndGlyphs" stroke="#1c1c1c" stroke-width="0.25">business income</text>
<text x="757" y="79.8" font-size="32.8" font-weight="bold" fill="#117999" textLength="22.3" lengthAdjust="spacingAndGlyphs" stroke="#117999" stroke-width="0.9" stroke-linejoin="round">19</text>
<text x="756.7" y="100.7" font-size="16.5" font-weight="normal" fill="#1c1c1c" textLength="37.3" lengthAdjust="spacingAndGlyphs" stroke="#1c1c1c" stroke-width="0.25">States</text>
<path d="M756.7,109.6H880.7" fill="none" stroke="#8f9fa8" stroke-width="1.4" stroke-dasharray="1.4 1.73"/>
<text x="757" y="144.1" font-size="32.8" font-weight="bold" fill="#117999" textLength="71.8" lengthAdjust="spacingAndGlyphs" stroke="#117999" stroke-width="0.9" stroke-linejoin="round">15,000</text><path d="M830.3,134.9h12.4M836.5,128.7v12.4" stroke="#117999" stroke-width="3.9" fill="none"/>
<text x="756.7" y="165.3" font-size="16.5" font-weight="normal" fill="#1c1c1c" textLength="110" lengthAdjust="spacingAndGlyphs" stroke="#1c1c1c" stroke-width="0.25">Households moved</text>
<text x="756.7" y="182.1" font-size="16.5" font-weight="normal" fill="#1c1c1c" textLength="81.6" lengthAdjust="spacingAndGlyphs" stroke="#1c1c1c" stroke-width="0.25">out of poverty</text>
<path d="M756.7,195.8H880.7" fill="none" stroke="#8f9fa8" stroke-width="1.4" stroke-dasharray="1.4 1.73"/>
<text x="757" y="231.1" font-size="32.8" font-weight="bold" fill="#117999" textLength="74.1" lengthAdjust="spacingAndGlyphs" stroke="#117999" stroke-width="0.9" stroke-linejoin="round">3 Lakh</text><path d="M832.6,221.9h12.4M838.8,215.7v12.4" stroke="#117999" stroke-width="3.9" fill="none"/>
<text x="756.7" y="251.7" font-size="16.5" font-weight="normal" fill="#1c1c1c" textLength="81.6" lengthAdjust="spacingAndGlyphs" stroke="#1c1c1c" stroke-width="0.25">Training hours</text>
<text x="756.7" y="269" font-size="16.5" font-weight="normal" fill="#1c1c1c" textLength="62.6" lengthAdjust="spacingAndGlyphs" stroke="#1c1c1c" stroke-width="0.25">completed</text>
<path d="M756.7,280.4H880.7" fill="none" stroke="#8f9fa8" stroke-width="1.4" stroke-dasharray="1.4 1.73"/>
<text x="757" y="314.2" font-size="32.8" font-weight="bold" fill="#117999" textLength="75.8" lengthAdjust="spacingAndGlyphs" stroke="#117999" stroke-width="0.9" stroke-linejoin="round">75,000</text><path d="M834.3,305h12.4M840.5,298.8v12.4" stroke="#117999" stroke-width="3.9" fill="none"/>
<text x="756.7" y="334.6" font-size="16.5" font-weight="normal" fill="#1c1c1c" textLength="115" lengthAdjust="spacingAndGlyphs" stroke="#1c1c1c" stroke-width="0.25">Women empowered</text>
<path d="M756.7,343.6H880.7" fill="none" stroke="#8f9fa8" stroke-width="1.4" stroke-dasharray="1.4 1.73"/>
<text x="757" y="375.5" font-size="32.8" font-weight="bold" fill="#117999" textLength="61.8" lengthAdjust="spacingAndGlyphs" stroke="#117999" stroke-width="0.9" stroke-linejoin="round">2,500</text><path d="M820.3,366.3h12.4M826.5,360.1v12.4" stroke="#117999" stroke-width="3.9" fill="none"/>
<text x="756.7" y="397.9" font-size="16.5" font-weight="normal" fill="#1c1c1c" textLength="83.3" lengthAdjust="spacingAndGlyphs" stroke="#1c1c1c" stroke-width="0.25">Entrepreneurs</text>
<text x="756.7" y="414.7" font-size="16.5" font-weight="normal" fill="#1c1c1c" textLength="45" lengthAdjust="spacingAndGlyphs" stroke="#1c1c1c" stroke-width="0.25">created</text>
<path d="M758,438.5h15M758,444.1h15M758.3,438.5h5.4c7.4,0 7.4,11.2 0,11.2h-4.8l10.6,11" fill="none" stroke="#117999" stroke-width="2.4" stroke-linejoin="miter"/>
<text x="774" y="459.5" font-size="32.8" font-weight="bold" fill="#117999" textLength="60.7" lengthAdjust="spacingAndGlyphs" stroke="#117999" stroke-width="0.9" stroke-linejoin="round">9,300</text>
<text x="756.7" y="481.3" font-size="16.5" font-weight="normal" fill="#1c1c1c" textLength="96.6" lengthAdjust="spacingAndGlyphs" stroke="#1c1c1c" stroke-width="0.25">Monthly average</text>
<text x="756.7" y="494.4" font-size="16.5" font-weight="normal" fill="#1c1c1c" textLength="100" lengthAdjust="spacingAndGlyphs" stroke="#1c1c1c" stroke-width="0.25">income for youth</text>
<text x="756.7" y="507.7" font-size="16.5" font-weight="normal" fill="#1c1c1c" textLength="84.8" lengthAdjust="spacingAndGlyphs" stroke="#1c1c1c" stroke-width="0.25">provided wage</text>
<text x="756.7" y="524.6" font-size="16.5" font-weight="normal" fill="#1c1c1c" textLength="72.4" lengthAdjust="spacingAndGlyphs" stroke="#1c1c1c" stroke-width="0.25">employment</text>
<rect x="24" y="518.6" width="33.6" height="10" fill="#e9501e"/>
<text x="25.6" y="526.4" font-size="8.3" font-weight="bold" fill="#fff" textLength="30.4" lengthAdjust="spacingAndGlyphs" >SOURCE</text>
<text x="62.9" y="526.1" font-size="9.7" font-weight="normal" fill="#2a2a2a" textLength="205.3" lengthAdjust="spacingAndGlyphs" stroke="#2a2a2a" stroke-width="0.4">Head Held High Foundation Annual Report 2022-23</text>
</svg></body></html>
